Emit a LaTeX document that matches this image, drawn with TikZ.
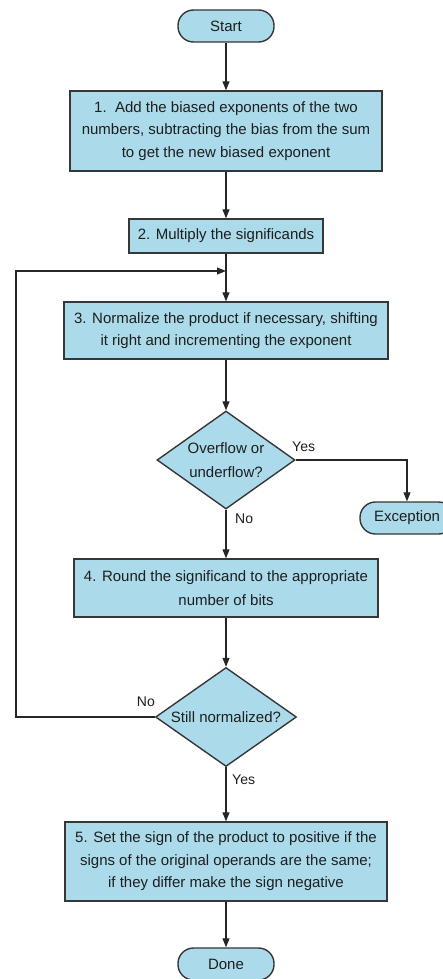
\documentclass[tikz,border=0pt]{standalone}
\usepackage{fontspec}
\setmainfont{Liberation Sans}
\usetikzlibrary{shapes.geometric,arrows.meta}
\definecolor{boxfill}{RGB}{171,219,234}
\definecolor{boxline}{RGB}{55,55,55}
\definecolor{txt}{RGB}{30,30,30}
\tikzset{
  base/.style={draw=boxline, line width=1.4pt, fill=boxfill, text=txt, inner sep=0pt,
    font=\fontsize{15}{22.5}\selectfont, align=center},
  stepbox/.style={base, rectangle},
  term/.style={base, rectangle, rounded corners=15.5pt, minimum width=96pt, minimum height=32pt},
  decide/.style={base, diamond, aspect=1.42},
  flow/.style={draw=black!85, line width=1.1pt, -{Triangle[length=9pt,width=7pt]}},
  lbl/.style={text=txt, font=\fontsize{14}{16}\selectfont, inner sep=0pt}
}
\begin{document}
\begin{tikzpicture}[x=1pt,y=-1pt]
\useasboundingbox (0,0) rectangle (443,979);
\fill[white] (0,0) rectangle (443,979);
\node[term] (start) at (226,26) {Start};
\node[stepbox, minimum width=312pt, minimum height=80pt] (s1) at (226,131)
  {1.\ \ Add the biased exponents of the two\\numbers, subtracting the bias from the sum\\to get the new biased exponent};
\node[stepbox, minimum width=194pt, minimum height=34pt] (s2) at (226,236) {2. Multiply the significands};
\node[stepbox, minimum width=324pt, minimum height=57pt] (s3) at (226,330.5)
  {3. Normalize the product if necessary, shifting\\it right and incrementing the exponent};
\node[decide, minimum width=138pt, minimum height=98pt] (d1) at (226,460) {Overflow or\\[2pt]underflow?};
\node[term, minimum width=94pt] (exc) at (407,518) {Exception};
\node[stepbox, minimum width=304pt, minimum height=58pt] (s4) at (226,588)
  {4. Round the significand to the appropriate\\[1.5pt]number of bits};
\node[decide, minimum width=141pt, minimum height=99pt] (d2) at (226,717) {Still normalized?};
\node[stepbox, minimum width=322pt, minimum height=79pt] (s5) at (226,861.5)
  {5. Set the sign of the product to positive if the\\signs of the original operands are the same;\\if they differ make the sign negative};
\node[term] (done) at (226,964) {Done};
\coordinate (lb) at (16,717);
\coordinate (lt) at (16,271);
\coordinate (join) at (226,271);
\draw[flow] (start) -- (s1);
\draw[flow] (s1) -- (s2);
\draw[flow] (s2) -- (s3);
\draw[flow] (s3) -- (d1);
\draw[flow] (d1.south) -- (s4);
\draw[flow] (d1.east) -| (exc.north);
\draw[flow] (s4) -- (d2);
\draw[flow] (d2.south) -- (s5);
\draw[flow] (s5) -- (done);
\draw[flow] (d2.west) -- (lb) -- (lt) -- (join);
\node[lbl, anchor=west] (yes1) at (292,447) {Yes};
\node[lbl, anchor=west] (no1) at (235,519) {No};
\node[lbl, anchor=east] (no2) at (155,702) {No};
\node[lbl, anchor=west] (yes2) at (232,780) {Yes};
\end{tikzpicture}
\end{document}
